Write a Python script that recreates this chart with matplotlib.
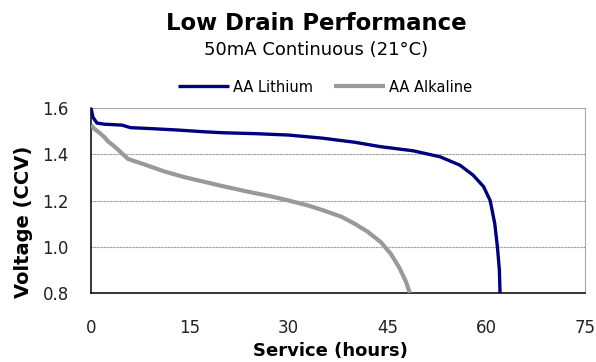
import numpy as np
import matplotlib
matplotlib.use("Agg")
import matplotlib.pyplot as plt

# service hours / closed-circuit voltage
lithium_hours = [0, 0.3, 0.9, 2, 4.7, 6, 9.7, 13, 17.3, 20, 25, 30, 35, 40, 43.9, 48.9,
                 53.0, 56.0, 58.0, 59.6, 60.6, 61.3, 61.7, 62.0, 62.1]
lithium_volts = [1.60, 1.56, 1.535, 1.53, 1.526, 1.515, 1.51, 1.505, 1.497, 1.493, 1.489,
                 1.483, 1.47, 1.452, 1.433, 1.415, 1.389, 1.353, 1.31, 1.26, 1.2, 1.1,
                 1.0, 0.9, 0.8]

alkaline_hours = [0, 0.5, 1.4, 2.0, 2.6, 3.3, 4.1, 5.6, 8.2, 11.2, 14.3, 17, 20, 24, 27,
                  30, 33, 35, 38, 40, 42, 44, 45.5, 46.8, 47.8, 48.4]
alkaline_volts = [1.527, 1.51, 1.49, 1.475, 1.455, 1.44, 1.42, 1.38, 1.355, 1.325, 1.30,
                  1.282, 1.262, 1.237, 1.22, 1.20, 1.178, 1.16, 1.13, 1.10, 1.065, 1.02,
                  0.97, 0.91, 0.85, 0.8]

x_ticks = [0, 15, 30, 45, 60, 75]
y_ticks = [0.8, 1.0, 1.2, 1.4, 1.6]

fig = plt.figure(figsize=(5.96, 3.62), dpi=100)
ax = fig.add_axes([91 / 596, 1 - 293 / 362, 494 / 596, 185 / 362])

ax.plot(lithium_hours, lithium_volts, color="#00007f", lw=2.4, label="AA Lithium",
        solid_capstyle="butt", solid_joinstyle="round", zorder=3)
ax.plot(alkaline_hours, alkaline_volts, color="#999999", lw=3.0, label="AA Alkaline",
        solid_capstyle="butt", solid_joinstyle="round", zorder=3)

ax.set_xlim(0, 75)
ax.set_ylim(0.8, 1.6)
ax.set_xticks(x_ticks)
ax.set_yticks(y_ticks)
ax.set_yticklabels(["%.1f" % v for v in y_ticks])
ax.tick_params(axis="x", length=0, pad=19, labelsize=12, colors="#222222")
ax.tick_params(axis="y", length=0, pad=16, labelsize=12, colors="#222222")
ax.grid(axis="y", color="#8a8a8a", lw=0.8, ls=(0, (1, 0.6)))

for side in ["left", "bottom"]:
    ax.spines[side].set_color("black")
    ax.spines[side].set_linewidth(1.1)
for side in ["top", "right"]:
    ax.spines[side].set_color("#aaaaaa")
    ax.spines[side].set_linewidth(0.8)

fig.text(330 / 596, 1 - 351 / 362, "Service (hours)", ha="center", va="center",
         fontsize=13, fontweight="bold")
fig.text(24 / 596, 1 - 222 / 362, "Voltage (CCV)", ha="center", va="center",
         rotation=90, fontsize=14, fontweight="bold")

fig.text(316 / 596, 1 - 24 / 362, "Low Drain Performance", ha="center", va="center",
         fontsize=16.4, fontweight="bold")
fig.text(316 / 596, 1 - 50 / 362, "50mA Continuous (21\u00b0C)", ha="center", va="center",
         fontsize=13)

fig.legend(loc="center", bbox_to_anchor=(325 / 596, 1 - 87 / 362), ncol=2, frameon=False,
           fontsize=10.5, handlelength=3.5, handletextpad=0.3, columnspacing=1.4)

fig.savefig("out.png", dpi=100)
